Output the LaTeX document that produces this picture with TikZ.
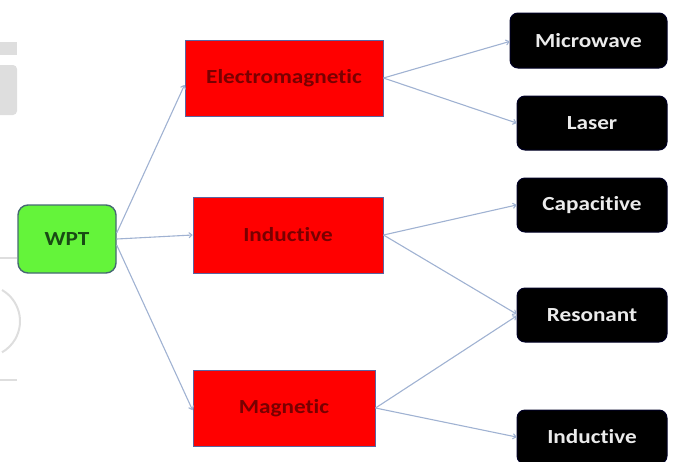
\documentclass[tikz,border=0pt]{standalone}
\usepackage{fontspec}
\setmainfont{Carlito}[FakeStretch=1.16, Ligatures=NoCommon, RawFeature=-liga]
\usetikzlibrary{arrows.meta}
\definecolor{wptgreen}{RGB}{100,244,58}
\definecolor{wptborder}{RGB}{70,105,115}
\definecolor{wpttext}{RGB}{25,75,20}
\definecolor{redfill}{RGB}{255,0,0}
\definecolor{redborder}{RGB}{90,100,160}
\definecolor{redtext}{RGB}{120,0,0}
\definecolor{linkcol}{RGB}{160,178,210}
\definecolor{wmark}{RGB}{222,222,222}
\tikzset{
  txt/.style={font=\fontsize{20}{23}\selectfont\bfseries, inner sep=0pt},
  rootbox/.style={txt, draw=wptborder, line width=1.4pt, fill=wptgreen, rounded corners=10pt,
    minimum width=98pt, minimum height=68pt, text=wpttext},
  midbox/.style={txt, draw=redborder, line width=1pt, fill=redfill, text=redtext,
    minimum height=76pt},
  leafbox/.style={txt, draw=black!85!blue, line width=1pt, fill=black, rounded corners=8pt, text=white!92!black,
    minimum width=150pt, minimum height=54pt},
  link/.style={draw=linkcol, line width=1.1pt, -{To[length=4pt,width=6pt]}}
}
\begin{document}
\begin{tikzpicture}[x=1pt,y=-1pt]
\useasboundingbox (0,0) rectangle (676,461);
% faint background fragments
\fill[wmark] (0,42) rectangle (17,55);
\fill[wmark, rounded corners=4pt] (-5,65) rectangle (17,115);
\draw[wmark, line width=1.5pt] (0,258) -- (17,258);
\draw[wmark, line width=1.5pt] (0,380) -- (17,380);
\draw[wmark, line width=2pt] (2,290) arc[start angle=60, end angle=-60, radius=36pt];
% nodes
\node[rootbox] (wpt) at (67,239) {WPT};
\node[midbox, minimum width=198pt] (em) at (284,78) {Electromagnetic};
\node[midbox, minimum width=190pt] (ind) at (288,235) {Inductive};
\node[midbox, minimum width=182pt] (mag) at (284,408) {Magnetic};
\node[leafbox, minimum width=157pt, minimum height=55pt] (mw) at (588.5,40.5) {Microwave};
\node[leafbox] (las) at (592,123) {Laser};
\node[leafbox] (cap) at (592,205) {Capacitive};
\node[leafbox] (res) at (592,315) {Resonant};
\node[leafbox] (ind2) at (592,437) {Inductive};
% connectors
\draw[link] ([yshift=6pt]wpt.east) -- ([yshift=-7pt]em.west);
\draw[link] (wpt.east) -- (ind.west);
\draw[link] ([yshift=-6pt]wpt.east) -- ([yshift=-2pt]mag.west);
\draw[link] (em.east) -- ([yshift=-1pt]mw.west);
\draw[link] (em.east) -- (las.west);
\draw[link] (ind.east) -- (cap.west);
\draw[link] (ind.east) -- ([yshift=1pt]res.west);
\draw[link] (mag.east) -- ([yshift=-1pt]res.west);
\draw[link] (mag.east) -- (ind2.west);
\end{tikzpicture}
\end{document}
